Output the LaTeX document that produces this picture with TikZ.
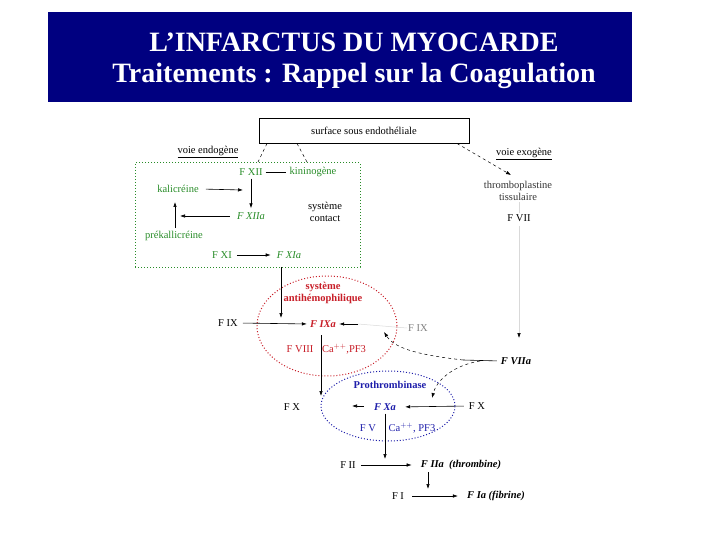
\documentclass[tikz,border=0pt]{standalone}
\usepackage{fontspec}
\setmainfont{Liberation Serif}
\usetikzlibrary{arrows.meta,shapes.geometric}
\definecolor{navy}{RGB}{0,0,128}
\definecolor{dgreen}{RGB}{40,140,40}
\definecolor{dred}{RGB}{200,30,40}
\definecolor{dblue}{RGB}{30,30,170}
\tikzset{
  lbl/.style={font=\fontsize{10.5}{12}\selectfont, inner sep=1pt},
  gr/.style={lbl, text=dgreen},
  rd/.style={lbl, text=dred},
  bl/.style={lbl, text=dblue},
  bi/.style={font=\fontsize{10.5}{12}\selectfont\bfseries\itshape},
  arr/.style={-{Latex[length=5pt,width=3.5pt]}, line width=0.6pt},
  garr/.style={-{Latex[length=5pt,width=3.5pt,color=black]}, line width=0.5pt, gray!30},
  dashln/.style={dashed, line width=0.5pt},
  titl/.style={font=\fontsize{28}{32}\selectfont\bfseries, text=white, anchor=base, inner sep=0pt}
}
\begin{document}
\begin{tikzpicture}[x=1pt,y=-1pt]
\useasboundingbox (0,0) rectangle (720,540);
% title banner
\fill[navy] (48,12) rectangle (632,102);
\node[titl] (t1) at (354,52) {L’INFARCTUS DU MYOCARDE};
\node[titl] (t2) at (354,83) {Traitements : Rappel sur la Coagulation};

% top box
\node[draw, line width=0.6pt, minimum width=210pt, minimum height=25pt, lbl] (surf) at (364,130.5) {surface sous endothéliale};
\node[lbl] (vendo) at (208,152) {\underline{voie endogène}};
\node[lbl] (vexo) at (524,154) {\underline{voie exogène}};

% green contact system box
\node[draw=dgreen, dotted, line width=1pt, minimum width=225pt, minimum height=104pt] (gbox) at (247.5,215) {};
\coordinate (s1) at (267,143.5); \coordinate (g1) at (258,162);
\coordinate (s2) at (297,143.5); \coordinate (g2) at (307,162);
\draw[dashln] (s1) -- (g1);
\draw[dashln] (s2) -- (g2);

\node[gr] (fxii) at (251,172) {F XII};
\node[gr] (kinin) at (313,172) {kininogène};
\draw[line width=0.6pt, shorten <=2pt, shorten >=2pt] (fxii.east) -- (kinin.west);
\node[gr] (kali) at (178,189) {kalicréine};
\coordinate (k1) at (243,190);
\draw[arr, shorten <=6pt] (kali.east) -- (k1);
\node[gr, font=\fontsize{10.5}{12}\selectfont\itshape] (fxiia) at (251,216) {F XIIa};
\draw[arr, shorten <=2pt, shorten >=3pt] (fxii.south) -- (fxiia.north);
\coordinate (p1) at (180,216);
\draw[arr, shorten <=6pt] (fxiia.west) -- (p1);
\node[gr] (prek) at (174,236) {prékallicréine};
\coordinate (p2) at (175,202);
\draw[arr, shorten <=2pt] (prek.north -| p2) -- (p2);
\node[lbl, align=center] (contact) at (325,212) {système\\contact};
\node[gr] (fxi) at (222,255) {F XI};
\node[gr, font=\fontsize{10.5}{12}\selectfont\itshape] (fxia) at (289,255) {F XIa};
\draw[arr, shorten <=4pt, shorten >=5pt] (fxi.east) -- (fxia.west);

% red antihemophilic ellipse
\node[ellipse, draw=dred, dotted, line width=1pt, minimum width=140pt, minimum height=100pt] (rell) at (327,326) {};
\node[rd, font=\fontsize{10.5}{12}\selectfont\bfseries, align=center] (anti) at (323,293) {système\\antihémophilique};
\node[lbl] (fixl) at (228,323) {F IX};
\node[rd, bi] (fixa) at (323,324) {F IXa};
\draw[arr, shorten <=4pt, shorten >=2pt] (fixl.east) -- (fixa.west);
\coordinate (d1) at (281,267);
\coordinate (d2) at (281,318);
\draw[arr] (d1) -- (d2);
\node[rd] (fviii) at (300,349) {F VIII};
\node[rd] (ca1) at (344,349) {Ca$^{++}$,PF3};
\node[lbl, text=gray] (fixr) at (418,328) {F IX};
\coordinate (f1) at (358,324);
\draw[line width=0.5pt, gray!30] (fixr.west) -- (f1);
\draw[arr, shorten >=2pt] (f1) -- (fixa.east);

% extrinsic pathway
\node[lbl, align=center, text=black!80] (thrombo) at (518,191) {thromboplastine\\tissulaire};
\coordinate (e1) at (457,143.5);
\coordinate (e2) at (511,175);
\draw[dashln, -{Latex[length=5pt,width=3.5pt]}] (e1) -- (e2);
\node[lbl] (fvii) at (519,218) {F VII};
\draw[line width=0.5pt, gray!30] (thrombo.south -| fvii) -- (fvii.north);
\node[lbl, bi] (fviia) at (516,361) {F VIIa};
\coordinate (v1) at (519,338);
\draw[garr, shorten <=3pt] (fvii.south) -- (v1);
\coordinate (c0) at (463,360);
\coordinate (c1) at (384,332);
\coordinate (c2) at (480,361);
\coordinate (c3) at (432,398);
\draw[line width=0.6pt, shorten <=3pt] (fviia.west) -- (c0);
\draw[dashln, -{Latex[length=5pt,width=3.5pt]}] (c0) .. controls (420,355) and (395,349) .. (c1);
\draw[dashln, -{Latex[length=5pt,width=3.5pt]}] (c2) .. controls (455,365) and (437,379) .. (c3);

% blue prothrombinase ellipse
\node[ellipse, draw=dblue, dotted, line width=1pt, minimum width=134pt, minimum height=70pt] (bell) at (388,406) {};
\node[bl, font=\fontsize{10.5}{12}\selectfont\bfseries] (proth) at (390,385) {Prothrombinase};
\coordinate (x1) at (321,335);
\coordinate (x2) at (321,396);
\draw[arr] (x1) -- (x2);
\node[lbl] (fxl) at (292,407) {F X};
\node[bl, bi] (fxa) at (385,407) {F Xa};
\node[lbl] (fxr) at (477,406) {F X};
\draw[arr, shorten <=4pt, shorten >=8pt] (fxr.west) -- (fxa.east);
\coordinate (h1) at (364,406);
\coordinate (h2) at (352,406);
\draw[arr] (h1) -- (h2);
\node[bl] (fv) at (368,428) {F V};
\node[bl] (ca2) at (412,428) {Ca$^{++}$, PF3};
\coordinate (y1) at (385,459);
\draw[arr, shorten <=2pt] (fxa.south) -- (y1);

% final cascade
\node[lbl] (fii) at (348,465) {F II};
\node[lbl, bi] (fiia) at (461,465) {F IIa\ \ (thrombine)};
\draw[arr, shorten <=4pt, shorten >=8pt] (fii.east) -- (fiia.west);
\coordinate (z1) at (428,472);
\coordinate (z2) at (428,489);
\draw[arr] (z1) -- (z2);
\node[lbl] (fi) at (398,496) {F I};
\node[lbl, bi] (fia) at (496,496) {F Ia (fibrine)};
\draw[arr, shorten <=7pt, shorten >=8pt] (fi.east) -- (fia.west);
\end{tikzpicture}
\end{document}
